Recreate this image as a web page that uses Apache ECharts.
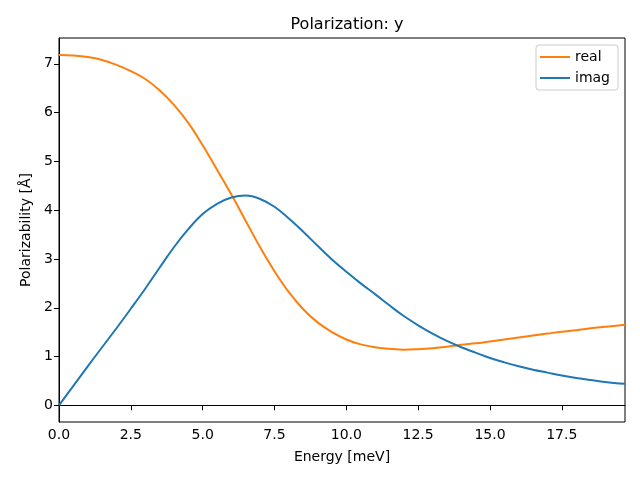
<!DOCTYPE html>
<html><head><meta charset="utf-8">
<script src="https://cdn.jsdelivr.net/npm/echarts@6/dist/echarts.min.js"></script>
<style>html,body{margin:0;padding:0;background:#fff}#c{width:640px;height:480px}</style>
</head><body><div id="c"></div>
<script>
const energy = [0,0.5,1,1.5,2,2.5,3,3.5,4,4.5,5,5.5,6,6.5,7,7.5,8,8.5,9,9.5,10,10.5,11,11.5,12,12.5,13,13.5,14,14.5,15,15.5,16,16.5,17,17.5,18,18.5,19,19.7];
const realVals = [7.18,7.17,7.14,7.08,6.98,6.85,6.69,6.46,6.16,5.79,5.33,4.83,4.32,3.78,3.24,2.75,2.32,1.97,1.70,1.50,1.35,1.25,1.19,1.16,1.14,1.15,1.17,1.20,1.24,1.27,1.31,1.35,1.39,1.43,1.47,1.51,1.54,1.58,1.61,1.65];
const imagVals = [0,0.40,0.80,1.19,1.58,1.98,2.39,2.82,3.24,3.61,3.92,4.13,4.26,4.30,4.23,4.07,3.83,3.56,3.27,2.99,2.74,2.50,2.28,2.05,1.83,1.64,1.47,1.32,1.19,1.08,0.97,0.88,0.80,0.73,0.67,0.61,0.56,0.52,0.48,0.44];
const xTicks = [0,2.5,5,7.5,10,12.5,15,17.5];
const yTicks = [0,1,2,3,4,5,6,7];
const seriesNames = ['real','imag'];
const colors = ['#ff7f0e','#1f77b4'];

const font = 'DejaVu Sans';
const chart = echarts.init(document.getElementById('c'));
function pairs(v){ return energy.map((e,i)=>[e,v[i]]); }
chart.setOption({
  animation:false,
  textStyle:{fontFamily:font},
  title:{text:'Polarization: y',left:342,top:12,textAlign:'center',
    textStyle:{fontFamily:font,fontSize:16,fontWeight:'normal',color:'#000'}},
  grid:{left:59,right:15,top:38,bottom:58,show:true,borderColor:'#000',borderWidth:1,containLabel:false},
  legend:{right:22,top:45,orient:'vertical',icon:'rect',itemWidth:30,itemHeight:2,itemGap:5,
    padding:[4,8,4,4],borderColor:'#ccc',borderWidth:1,borderRadius:3,
    textStyle:{fontFamily:font,fontSize:14,color:'#000',lineHeight:16},
    data:seriesNames},
  xAxis:{type:'value',min:0,max:19.7,
    name:'Energy [meV]',nameLocation:'middle',nameGap:28,
    nameTextStyle:{fontFamily:font,fontSize:14,color:'#000'},
    axisLine:{show:true,lineStyle:{color:'#000',width:1}},
    axisTick:{show:true,length:5,inside:false,customValues:xTicks,lineStyle:{color:'#000'}},
    axisLabel:{customValues:xTicks,fontFamily:font,fontSize:14,color:'#000',margin:6,formatter:v=>v.toFixed(1)},
    splitLine:{show:false}},
  yAxis:{type:'value',min:-0.342,max:7.53,
    name:'Polarizability [Å]',nameLocation:'middle',nameGap:26,
    nameTextStyle:{fontFamily:font,fontSize:14,color:'#000'},
    axisLine:{show:true,lineStyle:{color:'#000',width:1}},
    axisTick:{show:true,length:5,inside:false,customValues:yTicks,lineStyle:{color:'#000'}},
    axisLabel:{customValues:yTicks,fontFamily:font,fontSize:14,color:'#000',margin:6,formatter:v=>String(v)},
    splitLine:{show:false}},
  series:[
    {name:seriesNames[0],type:'line',data:pairs(realVals),showSymbol:false,smooth:0.4,
      lineStyle:{width:2,color:colors[0]},itemStyle:{color:colors[0]}},
    {name:seriesNames[1],type:'line',data:pairs(imagVals),showSymbol:false,smooth:0.4,
      lineStyle:{width:2,color:colors[1]},itemStyle:{color:colors[1]}}
  ]
});
</script></body></html>
